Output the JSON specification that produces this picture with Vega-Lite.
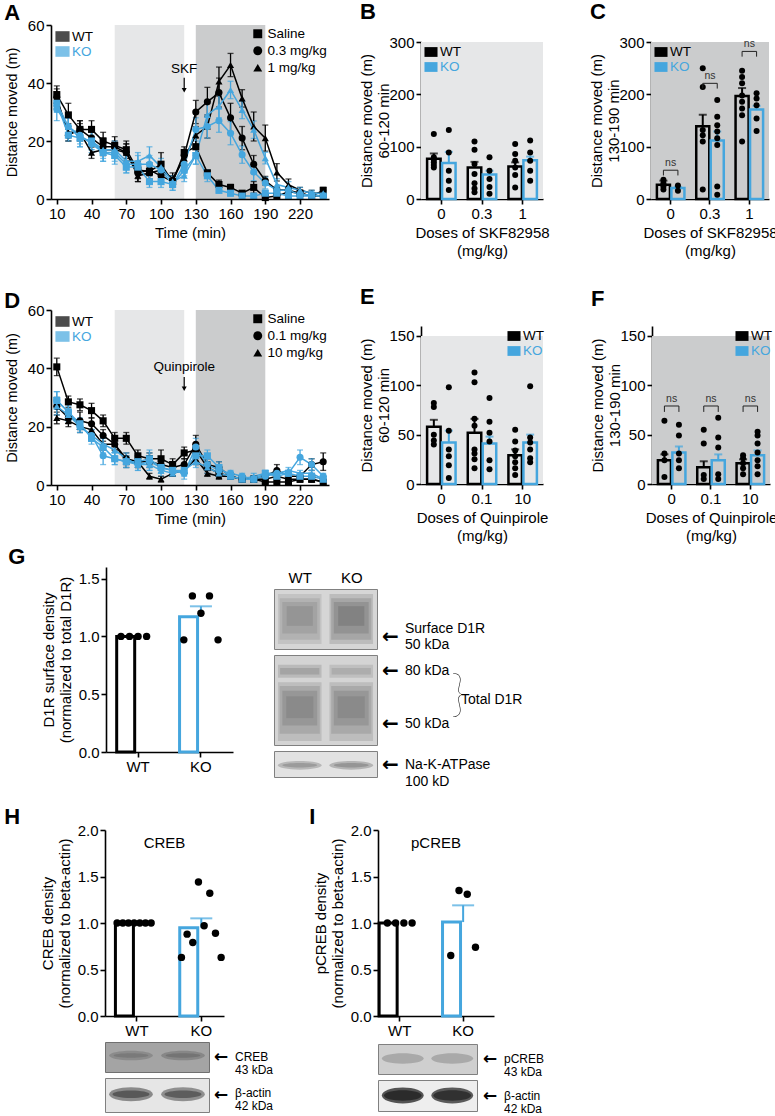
{
"$schema": "https://vega.github.io/schema/vega-lite/v6.json",
"background": "white",
"padding": {"left": 2, "top": 1, "right": 0, "bottom": 0},
"config": {
 "font": "Liberation Sans",
 "view": {"stroke": null},
 "axis": {"labelFont": "Liberation Sans", "titleFont": "Liberation Sans", "labelFontSize": 15, "titleFontSize": 15, "titleFontWeight": "normal", "labelColor": "#000000", "titleColor": "#000000", "domainColor": "#000000", "tickColor": "#000000", "domainWidth": 1.6, "tickWidth": 1.6, "tickSize": 5, "grid": false, "labelPadding": 2, "titlePadding": 5, "labelAngle": 0, "labelOverlap": false},
 "legend": {"labelFont": "Liberation Sans", "labelFontSize": 13.5, "labelColor": "#000000", "padding": 0},
 "title": {"font": "Liberation Sans", "fontSize": 22, "fontWeight": "bold", "anchor": "start", "color": "#000000", "offset": 4},
 "text": {"font": "Liberation Sans", "color": "#000000"}
},
"datasets": {
 "skf": [
{"g":"WT","d":"Saline","t":10,"m":36,"e":3},{"g":"WT","d":"Saline","t":20,"m":29,"e":4},{"g":"WT","d":"Saline","t":30,"m":24,"e":3},{"g":"WT","d":"Saline","t":40,"m":24,"e":3},{"g":"WT","d":"Saline","t":50,"m":20,"e":3},{"g":"WT","d":"Saline","t":60,"m":18.5,"e":3},{"g":"WT","d":"Saline","t":70,"m":17,"e":3},{"g":"WT","d":"Saline","t":80,"m":10,"e":3},{"g":"WT","d":"Saline","t":90,"m":9.5,"e":3},{"g":"WT","d":"Saline","t":100,"m":12,"e":4},{"g":"WT","d":"Saline","t":110,"m":6,"e":2},{"g":"WT","d":"Saline","t":120,"m":16,"e":2},{"g":"WT","d":"Saline","t":130,"m":18,"e":3},{"g":"WT","d":"Saline","t":140,"m":9,"e":1},{"g":"WT","d":"Saline","t":150,"m":5,"e":1.5},{"g":"WT","d":"Saline","t":160,"m":4,"e":1},{"g":"WT","d":"Saline","t":170,"m":2,"e":0.5},{"g":"WT","d":"Saline","t":180,"m":4,"e":2},{"g":"WT","d":"Saline","t":190,"m":0.5,"e":0.5},{"g":"WT","d":"Saline","t":200,"m":1,"e":0.5},{"g":"WT","d":"Saline","t":210,"m":2.5,"e":1},{"g":"WT","d":"Saline","t":220,"m":2,"e":1},{"g":"WT","d":"Saline","t":230,"m":1,"e":0.5},{"g":"WT","d":"Saline","t":240,"m":3,"e":1},
{"g":"WT","d":"0.3 mg/kg","t":10,"m":35,"e":3},{"g":"WT","d":"0.3 mg/kg","t":20,"m":22,"e":2},{"g":"WT","d":"0.3 mg/kg","t":30,"m":24,"e":3},{"g":"WT","d":"0.3 mg/kg","t":40,"m":21,"e":3},{"g":"WT","d":"0.3 mg/kg","t":50,"m":18,"e":3},{"g":"WT","d":"0.3 mg/kg","t":60,"m":18,"e":2},{"g":"WT","d":"0.3 mg/kg","t":70,"m":16,"e":3},{"g":"WT","d":"0.3 mg/kg","t":80,"m":9,"e":3},{"g":"WT","d":"0.3 mg/kg","t":90,"m":10,"e":2},{"g":"WT","d":"0.3 mg/kg","t":100,"m":8,"e":2},{"g":"WT","d":"0.3 mg/kg","t":110,"m":6,"e":2},{"g":"WT","d":"0.3 mg/kg","t":120,"m":15,"e":2},{"g":"WT","d":"0.3 mg/kg","t":130,"m":30,"e":4},{"g":"WT","d":"0.3 mg/kg","t":140,"m":33.5,"e":5},{"g":"WT","d":"0.3 mg/kg","t":150,"m":36.7,"e":5},{"g":"WT","d":"0.3 mg/kg","t":160,"m":28,"e":5},{"g":"WT","d":"0.3 mg/kg","t":170,"m":21,"e":4},{"g":"WT","d":"0.3 mg/kg","t":180,"m":12,"e":3},{"g":"WT","d":"0.3 mg/kg","t":190,"m":6.3,"e":1.5},{"g":"WT","d":"0.3 mg/kg","t":200,"m":3.2,"e":1},{"g":"WT","d":"0.3 mg/kg","t":210,"m":3,"e":1},{"g":"WT","d":"0.3 mg/kg","t":220,"m":2,"e":1},{"g":"WT","d":"0.3 mg/kg","t":230,"m":1,"e":0.5},{"g":"WT","d":"0.3 mg/kg","t":240,"m":1,"e":0.5},
{"g":"WT","d":"1 mg/kg","t":10,"m":34,"e":3},{"g":"WT","d":"1 mg/kg","t":20,"m":23,"e":3},{"g":"WT","d":"1 mg/kg","t":30,"m":23,"e":3},{"g":"WT","d":"1 mg/kg","t":40,"m":16,"e":2},{"g":"WT","d":"1 mg/kg","t":50,"m":17,"e":2},{"g":"WT","d":"1 mg/kg","t":60,"m":17,"e":2},{"g":"WT","d":"1 mg/kg","t":70,"m":16,"e":3},{"g":"WT","d":"1 mg/kg","t":80,"m":8,"e":2},{"g":"WT","d":"1 mg/kg","t":90,"m":9,"e":2},{"g":"WT","d":"1 mg/kg","t":100,"m":10,"e":2},{"g":"WT","d":"1 mg/kg","t":110,"m":7,"e":2},{"g":"WT","d":"1 mg/kg","t":120,"m":14,"e":3},{"g":"WT","d":"1 mg/kg","t":130,"m":22,"e":3},{"g":"WT","d":"1 mg/kg","t":140,"m":25,"e":4},{"g":"WT","d":"1 mg/kg","t":150,"m":40.5,"e":5},{"g":"WT","d":"1 mg/kg","t":160,"m":46.2,"e":4},{"g":"WT","d":"1 mg/kg","t":170,"m":34.7,"e":3},{"g":"WT","d":"1 mg/kg","t":180,"m":25,"e":5},{"g":"WT","d":"1 mg/kg","t":190,"m":21,"e":4.5},{"g":"WT","d":"1 mg/kg","t":200,"m":9.2,"e":3},{"g":"WT","d":"1 mg/kg","t":210,"m":4.9,"e":2},{"g":"WT","d":"1 mg/kg","t":220,"m":3,"e":1},{"g":"WT","d":"1 mg/kg","t":230,"m":2,"e":1},{"g":"WT","d":"1 mg/kg","t":240,"m":2,"e":1},
{"g":"KO","d":"Saline","t":10,"m":33,"e":3},{"g":"KO","d":"Saline","t":20,"m":22,"e":2},{"g":"KO","d":"Saline","t":30,"m":21,"e":3},{"g":"KO","d":"Saline","t":40,"m":20,"e":3},{"g":"KO","d":"Saline","t":50,"m":16,"e":3},{"g":"KO","d":"Saline","t":60,"m":15,"e":3},{"g":"KO","d":"Saline","t":70,"m":11,"e":2},{"g":"KO","d":"Saline","t":80,"m":11,"e":2},{"g":"KO","d":"Saline","t":90,"m":6,"e":2},{"g":"KO","d":"Saline","t":100,"m":6,"e":2},{"g":"KO","d":"Saline","t":110,"m":5,"e":2},{"g":"KO","d":"Saline","t":120,"m":10,"e":2},{"g":"KO","d":"Saline","t":130,"m":15,"e":3},{"g":"KO","d":"Saline","t":140,"m":8,"e":2},{"g":"KO","d":"Saline","t":150,"m":3,"e":1},{"g":"KO","d":"Saline","t":160,"m":2,"e":1},{"g":"KO","d":"Saline","t":170,"m":1,"e":0.5},{"g":"KO","d":"Saline","t":180,"m":1,"e":0.5},{"g":"KO","d":"Saline","t":190,"m":2,"e":1},{"g":"KO","d":"Saline","t":200,"m":2,"e":1},{"g":"KO","d":"Saline","t":210,"m":1,"e":0.5},{"g":"KO","d":"Saline","t":220,"m":1,"e":0.5},{"g":"KO","d":"Saline","t":230,"m":1,"e":0.5},{"g":"KO","d":"Saline","t":240,"m":1,"e":0.5},
{"g":"KO","d":"0.3 mg/kg","t":10,"m":31,"e":4},{"g":"KO","d":"0.3 mg/kg","t":20,"m":25,"e":3},{"g":"KO","d":"0.3 mg/kg","t":30,"m":22,"e":3},{"g":"KO","d":"0.3 mg/kg","t":40,"m":19,"e":3},{"g":"KO","d":"0.3 mg/kg","t":50,"m":16,"e":3},{"g":"KO","d":"0.3 mg/kg","t":60,"m":16,"e":3},{"g":"KO","d":"0.3 mg/kg","t":70,"m":12,"e":3},{"g":"KO","d":"0.3 mg/kg","t":80,"m":12,"e":3},{"g":"KO","d":"0.3 mg/kg","t":90,"m":12,"e":3},{"g":"KO","d":"0.3 mg/kg","t":100,"m":10,"e":2},{"g":"KO","d":"0.3 mg/kg","t":110,"m":5,"e":2},{"g":"KO","d":"0.3 mg/kg","t":120,"m":12,"e":3},{"g":"KO","d":"0.3 mg/kg","t":130,"m":24,"e":4},{"g":"KO","d":"0.3 mg/kg","t":140,"m":25,"e":4},{"g":"KO","d":"0.3 mg/kg","t":150,"m":27,"e":4},{"g":"KO","d":"0.3 mg/kg","t":160,"m":22.7,"e":4},{"g":"KO","d":"0.3 mg/kg","t":170,"m":15.3,"e":3},{"g":"KO","d":"0.3 mg/kg","t":180,"m":9.3,"e":3},{"g":"KO","d":"0.3 mg/kg","t":190,"m":5.5,"e":2},{"g":"KO","d":"0.3 mg/kg","t":200,"m":3,"e":1},{"g":"KO","d":"0.3 mg/kg","t":210,"m":3,"e":1},{"g":"KO","d":"0.3 mg/kg","t":220,"m":1.5,"e":1},{"g":"KO","d":"0.3 mg/kg","t":230,"m":1.5,"e":1},{"g":"KO","d":"0.3 mg/kg","t":240,"m":1,"e":0.5},
{"g":"KO","d":"1 mg/kg","t":10,"m":33,"e":3},{"g":"KO","d":"1 mg/kg","t":20,"m":25,"e":3},{"g":"KO","d":"1 mg/kg","t":30,"m":21,"e":3},{"g":"KO","d":"1 mg/kg","t":40,"m":20,"e":3},{"g":"KO","d":"1 mg/kg","t":50,"m":17,"e":3},{"g":"KO","d":"1 mg/kg","t":60,"m":17,"e":3},{"g":"KO","d":"1 mg/kg","t":70,"m":13,"e":3},{"g":"KO","d":"1 mg/kg","t":80,"m":13,"e":3},{"g":"KO","d":"1 mg/kg","t":90,"m":15,"e":3},{"g":"KO","d":"1 mg/kg","t":100,"m":11,"e":3},{"g":"KO","d":"1 mg/kg","t":110,"m":6,"e":2},{"g":"KO","d":"1 mg/kg","t":120,"m":8,"e":2},{"g":"KO","d":"1 mg/kg","t":130,"m":15,"e":3},{"g":"KO","d":"1 mg/kg","t":140,"m":29,"e":4},{"g":"KO","d":"1 mg/kg","t":150,"m":32,"e":4},{"g":"KO","d":"1 mg/kg","t":160,"m":37.6,"e":3},{"g":"KO","d":"1 mg/kg","t":170,"m":30.7,"e":3},{"g":"KO","d":"1 mg/kg","t":180,"m":23.9,"e":3},{"g":"KO","d":"1 mg/kg","t":190,"m":14.1,"e":2},{"g":"KO","d":"1 mg/kg","t":200,"m":5,"e":2},{"g":"KO","d":"1 mg/kg","t":210,"m":4,"e":2},{"g":"KO","d":"1 mg/kg","t":220,"m":3,"e":1},{"g":"KO","d":"1 mg/kg","t":230,"m":2,"e":1},{"g":"KO","d":"1 mg/kg","t":240,"m":2,"e":1}
 ],
 "qui": [
{"g":"WT","d":"Saline","t":10,"m":40.5,"e":3},{"g":"WT","d":"Saline","t":20,"m":28.5,"e":2},{"g":"WT","d":"Saline","t":30,"m":27.5,"e":2},{"g":"WT","d":"Saline","t":40,"m":25.5,"e":2.5},{"g":"WT","d":"Saline","t":50,"m":22,"e":2},{"g":"WT","d":"Saline","t":60,"m":16,"e":2},{"g":"WT","d":"Saline","t":70,"m":16,"e":2},{"g":"WT","d":"Saline","t":80,"m":10,"e":2},{"g":"WT","d":"Saline","t":90,"m":9,"e":2},{"g":"WT","d":"Saline","t":100,"m":9,"e":3},{"g":"WT","d":"Saline","t":110,"m":7,"e":2},{"g":"WT","d":"Saline","t":120,"m":11,"e":2},{"g":"WT","d":"Saline","t":130,"m":12,"e":2},{"g":"WT","d":"Saline","t":140,"m":6,"e":2},{"g":"WT","d":"Saline","t":150,"m":4,"e":1.5},{"g":"WT","d":"Saline","t":160,"m":3,"e":1},{"g":"WT","d":"Saline","t":170,"m":2,"e":1},{"g":"WT","d":"Saline","t":180,"m":2,"e":1},{"g":"WT","d":"Saline","t":190,"m":1,"e":0.5},{"g":"WT","d":"Saline","t":200,"m":1,"e":0.5},{"g":"WT","d":"Saline","t":210,"m":1,"e":0.5},{"g":"WT","d":"Saline","t":220,"m":2,"e":1},{"g":"WT","d":"Saline","t":230,"m":2,"e":1},{"g":"WT","d":"Saline","t":240,"m":1,"e":0.5},
{"g":"WT","d":"0.1 mg/kg","t":10,"m":27,"e":3},{"g":"WT","d":"0.1 mg/kg","t":20,"m":23,"e":2},{"g":"WT","d":"0.1 mg/kg","t":30,"m":22,"e":3},{"g":"WT","d":"0.1 mg/kg","t":40,"m":21,"e":2},{"g":"WT","d":"0.1 mg/kg","t":50,"m":17,"e":2},{"g":"WT","d":"0.1 mg/kg","t":60,"m":14,"e":2},{"g":"WT","d":"0.1 mg/kg","t":70,"m":9,"e":2},{"g":"WT","d":"0.1 mg/kg","t":80,"m":8,"e":2},{"g":"WT","d":"0.1 mg/kg","t":90,"m":8,"e":2},{"g":"WT","d":"0.1 mg/kg","t":100,"m":7,"e":2},{"g":"WT","d":"0.1 mg/kg","t":110,"m":6,"e":2},{"g":"WT","d":"0.1 mg/kg","t":120,"m":7,"e":2},{"g":"WT","d":"0.1 mg/kg","t":130,"m":14,"e":3},{"g":"WT","d":"0.1 mg/kg","t":140,"m":7,"e":2},{"g":"WT","d":"0.1 mg/kg","t":150,"m":6,"e":2},{"g":"WT","d":"0.1 mg/kg","t":160,"m":3,"e":1},{"g":"WT","d":"0.1 mg/kg","t":170,"m":2,"e":1},{"g":"WT","d":"0.1 mg/kg","t":180,"m":2,"e":1},{"g":"WT","d":"0.1 mg/kg","t":190,"m":3,"e":1},{"g":"WT","d":"0.1 mg/kg","t":200,"m":5,"e":2},{"g":"WT","d":"0.1 mg/kg","t":210,"m":3,"e":1},{"g":"WT","d":"0.1 mg/kg","t":220,"m":3,"e":1},{"g":"WT","d":"0.1 mg/kg","t":230,"m":7,"e":2},{"g":"WT","d":"0.1 mg/kg","t":240,"m":8,"e":3},
{"g":"WT","d":"10 mg/kg","t":10,"m":23,"e":2},{"g":"WT","d":"10 mg/kg","t":20,"m":22,"e":2},{"g":"WT","d":"10 mg/kg","t":30,"m":20,"e":2},{"g":"WT","d":"10 mg/kg","t":40,"m":19,"e":2},{"g":"WT","d":"10 mg/kg","t":50,"m":14,"e":2},{"g":"WT","d":"10 mg/kg","t":60,"m":14,"e":2},{"g":"WT","d":"10 mg/kg","t":70,"m":8,"e":2},{"g":"WT","d":"10 mg/kg","t":80,"m":8,"e":2},{"g":"WT","d":"10 mg/kg","t":90,"m":3,"e":1},{"g":"WT","d":"10 mg/kg","t":100,"m":2,"e":1},{"g":"WT","d":"10 mg/kg","t":110,"m":4,"e":1},{"g":"WT","d":"10 mg/kg","t":120,"m":5,"e":1},{"g":"WT","d":"10 mg/kg","t":130,"m":9,"e":2},{"g":"WT","d":"10 mg/kg","t":140,"m":4,"e":1},{"g":"WT","d":"10 mg/kg","t":150,"m":3,"e":1},{"g":"WT","d":"10 mg/kg","t":160,"m":3,"e":1},{"g":"WT","d":"10 mg/kg","t":170,"m":2,"e":1},{"g":"WT","d":"10 mg/kg","t":180,"m":2,"e":1},{"g":"WT","d":"10 mg/kg","t":190,"m":2,"e":1},{"g":"WT","d":"10 mg/kg","t":200,"m":3,"e":1},{"g":"WT","d":"10 mg/kg","t":210,"m":2,"e":1},{"g":"WT","d":"10 mg/kg","t":220,"m":2,"e":1},{"g":"WT","d":"10 mg/kg","t":230,"m":2,"e":1},{"g":"WT","d":"10 mg/kg","t":240,"m":1,"e":0.5},
{"g":"KO","d":"Saline","t":10,"m":29,"e":3},{"g":"KO","d":"Saline","t":20,"m":25,"e":3},{"g":"KO","d":"Saline","t":30,"m":21,"e":2},{"g":"KO","d":"Saline","t":40,"m":16,"e":2},{"g":"KO","d":"Saline","t":50,"m":13,"e":3},{"g":"KO","d":"Saline","t":60,"m":9,"e":2},{"g":"KO","d":"Saline","t":70,"m":8,"e":2},{"g":"KO","d":"Saline","t":80,"m":8,"e":2},{"g":"KO","d":"Saline","t":90,"m":9,"e":3},{"g":"KO","d":"Saline","t":100,"m":6,"e":2},{"g":"KO","d":"Saline","t":110,"m":5,"e":2},{"g":"KO","d":"Saline","t":120,"m":5,"e":2},{"g":"KO","d":"Saline","t":130,"m":10,"e":3},{"g":"KO","d":"Saline","t":140,"m":10,"e":2},{"g":"KO","d":"Saline","t":150,"m":6,"e":2},{"g":"KO","d":"Saline","t":160,"m":3,"e":1},{"g":"KO","d":"Saline","t":170,"m":2,"e":1},{"g":"KO","d":"Saline","t":180,"m":2,"e":1},{"g":"KO","d":"Saline","t":190,"m":4,"e":1},{"g":"KO","d":"Saline","t":200,"m":3,"e":1},{"g":"KO","d":"Saline","t":210,"m":4,"e":1},{"g":"KO","d":"Saline","t":220,"m":3,"e":1},{"g":"KO","d":"Saline","t":230,"m":3,"e":1},{"g":"KO","d":"Saline","t":240,"m":2,"e":1},
{"g":"KO","d":"0.1 mg/kg","t":10,"m":29,"e":3},{"g":"KO","d":"0.1 mg/kg","t":20,"m":25,"e":2},{"g":"KO","d":"0.1 mg/kg","t":30,"m":20,"e":2},{"g":"KO","d":"0.1 mg/kg","t":40,"m":17,"e":2},{"g":"KO","d":"0.1 mg/kg","t":50,"m":10,"e":3},{"g":"KO","d":"0.1 mg/kg","t":60,"m":9,"e":2},{"g":"KO","d":"0.1 mg/kg","t":70,"m":8,"e":2},{"g":"KO","d":"0.1 mg/kg","t":80,"m":7,"e":2},{"g":"KO","d":"0.1 mg/kg","t":90,"m":8,"e":3},{"g":"KO","d":"0.1 mg/kg","t":100,"m":6,"e":2},{"g":"KO","d":"0.1 mg/kg","t":110,"m":5,"e":2},{"g":"KO","d":"0.1 mg/kg","t":120,"m":4,"e":2},{"g":"KO","d":"0.1 mg/kg","t":130,"m":13,"e":3},{"g":"KO","d":"0.1 mg/kg","t":140,"m":7,"e":2},{"g":"KO","d":"0.1 mg/kg","t":150,"m":5,"e":2},{"g":"KO","d":"0.1 mg/kg","t":160,"m":4,"e":1},{"g":"KO","d":"0.1 mg/kg","t":170,"m":3,"e":1},{"g":"KO","d":"0.1 mg/kg","t":180,"m":2,"e":1},{"g":"KO","d":"0.1 mg/kg","t":190,"m":3,"e":1},{"g":"KO","d":"0.1 mg/kg","t":200,"m":4,"e":1},{"g":"KO","d":"0.1 mg/kg","t":210,"m":4,"e":1},{"g":"KO","d":"0.1 mg/kg","t":220,"m":9.5,"e":2.5},{"g":"KO","d":"0.1 mg/kg","t":230,"m":7,"e":2},{"g":"KO","d":"0.1 mg/kg","t":240,"m":3,"e":1},
{"g":"KO","d":"10 mg/kg","t":10,"m":27,"e":3},{"g":"KO","d":"10 mg/kg","t":20,"m":24,"e":2},{"g":"KO","d":"10 mg/kg","t":30,"m":20,"e":2},{"g":"KO","d":"10 mg/kg","t":40,"m":17,"e":2},{"g":"KO","d":"10 mg/kg","t":50,"m":14,"e":3},{"g":"KO","d":"10 mg/kg","t":60,"m":12,"e":2},{"g":"KO","d":"10 mg/kg","t":70,"m":9,"e":2},{"g":"KO","d":"10 mg/kg","t":80,"m":7,"e":2},{"g":"KO","d":"10 mg/kg","t":90,"m":7,"e":2},{"g":"KO","d":"10 mg/kg","t":100,"m":5,"e":2},{"g":"KO","d":"10 mg/kg","t":110,"m":4,"e":1},{"g":"KO","d":"10 mg/kg","t":120,"m":5,"e":1},{"g":"KO","d":"10 mg/kg","t":130,"m":8,"e":2},{"g":"KO","d":"10 mg/kg","t":140,"m":6,"e":2},{"g":"KO","d":"10 mg/kg","t":150,"m":4,"e":1},{"g":"KO","d":"10 mg/kg","t":160,"m":3,"e":1},{"g":"KO","d":"10 mg/kg","t":170,"m":2,"e":1},{"g":"KO","d":"10 mg/kg","t":180,"m":3,"e":1},{"g":"KO","d":"10 mg/kg","t":190,"m":4,"e":1},{"g":"KO","d":"10 mg/kg","t":200,"m":4,"e":1},{"g":"KO","d":"10 mg/kg","t":210,"m":5,"e":1},{"g":"KO","d":"10 mg/kg","t":220,"m":4,"e":1},{"g":"KO","d":"10 mg/kg","t":230,"m":4,"e":1},{"g":"KO","d":"10 mg/kg","t":240,"m":2,"e":1}
 ],
 "bars": [
{"p":"B","dose":"0","g":"WT","m":77,"hi":87},{"p":"B","dose":"0","g":"KO","m":69,"hi":90},{"p":"B","dose":"0.3","g":"WT","m":60,"hi":71},{"p":"B","dose":"0.3","g":"KO","m":47,"hi":54},{"p":"B","dose":"1","g":"WT","m":62,"hi":70},{"p":"B","dose":"1","g":"KO","m":74,"hi":81},
{"p":"C","dose":"0","g":"WT","m":27,"hi":35},{"p":"C","dose":"0","g":"KO","m":21,"hi":23},{"p":"C","dose":"0.3","g":"WT","m":139,"hi":161},{"p":"C","dose":"0.3","g":"KO","m":112,"hi":129},{"p":"C","dose":"1","g":"WT","m":197,"hi":212},{"p":"C","dose":"1","g":"KO","m":171,"hi":178},
{"p":"E","dose":"0","g":"WT","m":58,"hi":65},{"p":"E","dose":"0","g":"KO","m":42,"hi":54},{"p":"E","dose":"0.1","g":"WT","m":52,"hi":66},{"p":"E","dose":"0.1","g":"KO","m":41,"hi":48},{"p":"E","dose":"10","g":"WT","m":29,"hi":35},{"p":"E","dose":"10","g":"KO","m":42,"hi":50},
{"p":"F","dose":"0","g":"WT","m":24,"hi":30},{"p":"F","dose":"0","g":"KO","m":32,"hi":38},{"p":"F","dose":"0.1","g":"WT","m":17,"hi":23},{"p":"F","dose":"0.1","g":"KO","m":24,"hi":30},{"p":"F","dose":"10","g":"WT","m":21,"hi":25},{"p":"F","dose":"10","g":"KO","m":29,"hi":34},
{"p":"G","g":"WT","m":1.0,"hi":null},{"p":"G","g":"KO","m":1.17,"hi":1.26},
{"p":"H","g":"WT","m":1.0,"hi":null},{"p":"H","g":"KO","m":0.95,"hi":1.05},
{"p":"I","g":"WT","m":1.0,"hi":null},{"p":"I","g":"KO","m":1.01,"hi":1.19}
 ],
 "dots": [
{"p":"B","dose":"0","g":"WT","v":124},{"p":"B","dose":"0","g":"WT","v":80},{"p":"B","dose":"0","g":"WT","v":75},{"p":"B","dose":"0","g":"WT","v":70},{"p":"B","dose":"0","g":"WT","v":65},{"p":"B","dose":"0","g":"WT","v":60},
{"p":"B","dose":"0","g":"KO","v":132},{"p":"B","dose":"0","g":"KO","v":89},{"p":"B","dose":"0","g":"KO","v":54},{"p":"B","dose":"0","g":"KO","v":35},{"p":"B","dose":"0","g":"KO","v":17},
{"p":"B","dose":"0.3","g":"WT","v":110},{"p":"B","dose":"0.3","g":"WT","v":94},{"p":"B","dose":"0.3","g":"WT","v":67},{"p":"B","dose":"0.3","g":"WT","v":48},{"p":"B","dose":"0.3","g":"WT","v":30},{"p":"B","dose":"0.3","g":"WT","v":20},{"p":"B","dose":"0.3","g":"WT","v":13},
{"p":"B","dose":"0.3","g":"KO","v":80},{"p":"B","dose":"0.3","g":"KO","v":54},{"p":"B","dose":"0.3","g":"KO","v":38},{"p":"B","dose":"0.3","g":"KO","v":23},{"p":"B","dose":"0.3","g":"KO","v":10},
{"p":"B","dose":"1","g":"WT","v":105},{"p":"B","dose":"1","g":"WT","v":86},{"p":"B","dose":"1","g":"WT","v":73},{"p":"B","dose":"1","g":"WT","v":60},{"p":"B","dose":"1","g":"WT","v":46},{"p":"B","dose":"1","g":"WT","v":22},
{"p":"B","dose":"1","g":"KO","v":112},{"p":"B","dose":"1","g":"KO","v":89},{"p":"B","dose":"1","g":"KO","v":73},{"p":"B","dose":"1","g":"KO","v":54},{"p":"B","dose":"1","g":"KO","v":35},
{"p":"C","dose":"0","g":"WT","v":37},{"p":"C","dose":"0","g":"WT","v":30},{"p":"C","dose":"0","g":"WT","v":24},{"p":"C","dose":"0","g":"WT","v":18},
{"p":"C","dose":"0","g":"KO","v":26},{"p":"C","dose":"0","g":"KO","v":16},
{"p":"C","dose":"0.3","g":"WT","v":250},{"p":"C","dose":"0.3","g":"WT","v":214},{"p":"C","dose":"0.3","g":"WT","v":132},{"p":"C","dose":"0.3","g":"WT","v":122},{"p":"C","dose":"0.3","g":"WT","v":110},{"p":"C","dose":"0.3","g":"WT","v":18},
{"p":"C","dose":"0.3","g":"KO","v":189},{"p":"C","dose":"0.3","g":"KO","v":157},{"p":"C","dose":"0.3","g":"KO","v":141},{"p":"C","dose":"0.3","g":"KO","v":129},{"p":"C","dose":"0.3","g":"KO","v":116},{"p":"C","dose":"0.3","g":"KO","v":103},{"p":"C","dose":"0.3","g":"KO","v":24},{"p":"C","dose":"0.3","g":"KO","v":8},
{"p":"C","dose":"1","g":"WT","v":245},{"p":"C","dose":"1","g":"WT","v":233},{"p":"C","dose":"1","g":"WT","v":221},{"p":"C","dose":"1","g":"WT","v":198},{"p":"C","dose":"1","g":"WT","v":186},{"p":"C","dose":"1","g":"WT","v":173},{"p":"C","dose":"1","g":"WT","v":160},{"p":"C","dose":"1","g":"WT","v":110},
{"p":"C","dose":"1","g":"KO","v":202},{"p":"C","dose":"1","g":"KO","v":192},{"p":"C","dose":"1","g":"KO","v":179},{"p":"C","dose":"1","g":"KO","v":154},{"p":"C","dose":"1","g":"KO","v":130},
{"p":"E","dose":"0","g":"WT","v":82},{"p":"E","dose":"0","g":"WT","v":78},{"p":"E","dose":"0","g":"WT","v":50},{"p":"E","dose":"0","g":"WT","v":44},{"p":"E","dose":"0","g":"WT","v":40},
{"p":"E","dose":"0","g":"KO","v":98},{"p":"E","dose":"0","g":"KO","v":54},{"p":"E","dose":"0","g":"KO","v":35},{"p":"E","dose":"0","g":"KO","v":28},{"p":"E","dose":"0","g":"KO","v":19},{"p":"E","dose":"0","g":"KO","v":6},
{"p":"E","dose":"0.1","g":"WT","v":113},{"p":"E","dose":"0.1","g":"WT","v":103},{"p":"E","dose":"0.1","g":"WT","v":66},{"p":"E","dose":"0.1","g":"WT","v":59},{"p":"E","dose":"0.1","g":"WT","v":35},{"p":"E","dose":"0.1","g":"WT","v":31},{"p":"E","dose":"0.1","g":"WT","v":25},{"p":"E","dose":"0.1","g":"WT","v":16},
{"p":"E","dose":"0.1","g":"KO","v":87},{"p":"E","dose":"0.1","g":"KO","v":63},{"p":"E","dose":"0.1","g":"KO","v":52},{"p":"E","dose":"0.1","g":"KO","v":43},{"p":"E","dose":"0.1","g":"KO","v":24},{"p":"E","dose":"0.1","g":"KO","v":15},
{"p":"E","dose":"10","g":"WT","v":55},{"p":"E","dose":"10","g":"WT","v":43},{"p":"E","dose":"10","g":"WT","v":34},{"p":"E","dose":"10","g":"WT","v":28},{"p":"E","dose":"10","g":"WT","v":22},{"p":"E","dose":"10","g":"WT","v":16},{"p":"E","dose":"10","g":"WT","v":9},
{"p":"E","dose":"10","g":"KO","v":99},{"p":"E","dose":"10","g":"KO","v":47},{"p":"E","dose":"10","g":"KO","v":42},{"p":"E","dose":"10","g":"KO","v":35},{"p":"E","dose":"10","g":"KO","v":26},{"p":"E","dose":"10","g":"KO","v":22},
{"p":"F","dose":"0","g":"WT","v":64},{"p":"F","dose":"0","g":"WT","v":31},{"p":"F","dose":"0","g":"WT","v":24},{"p":"F","dose":"0","g":"WT","v":7},
{"p":"F","dose":"0","g":"KO","v":60},{"p":"F","dose":"0","g":"KO","v":49},{"p":"F","dose":"0","g":"KO","v":31},{"p":"F","dose":"0","g":"KO","v":24},{"p":"F","dose":"0","g":"KO","v":16},
{"p":"F","dose":"0.1","g":"WT","v":55},{"p":"F","dose":"0.1","g":"WT","v":41},{"p":"F","dose":"0.1","g":"WT","v":9},{"p":"F","dose":"0.1","g":"WT","v":5},
{"p":"F","dose":"0.1","g":"KO","v":67},{"p":"F","dose":"0.1","g":"KO","v":47},{"p":"F","dose":"0.1","g":"KO","v":37},{"p":"F","dose":"0.1","g":"KO","v":10},{"p":"F","dose":"0.1","g":"KO","v":5},
{"p":"F","dose":"10","g":"WT","v":29},{"p":"F","dose":"10","g":"WT","v":26},{"p":"F","dose":"10","g":"WT","v":21},{"p":"F","dose":"10","g":"WT","v":16},{"p":"F","dose":"10","g":"WT","v":10},
{"p":"F","dose":"10","g":"KO","v":53},{"p":"F","dose":"10","g":"KO","v":49},{"p":"F","dose":"10","g":"KO","v":41},{"p":"F","dose":"10","g":"KO","v":32},{"p":"F","dose":"10","g":"KO","v":24},{"p":"F","dose":"10","g":"KO","v":18},{"p":"F","dose":"10","g":"KO","v":10},
{"p":"G","g":"WT","rep":1,"v":1},{"p":"G","g":"WT","rep":2,"v":1},{"p":"G","g":"WT","rep":3,"v":1},{"p":"G","g":"WT","rep":4,"v":1},
{"p":"G","g":"KO","rep":1,"v":0.97},{"p":"G","g":"KO","rep":2,"v":1.35},{"p":"G","g":"KO","rep":3,"v":1.2},{"p":"G","g":"KO","rep":4,"v":1.35},{"p":"G","g":"KO","rep":5,"v":0.97},
{"p":"H","g":"WT","rep":1,"v":1},{"p":"H","g":"WT","rep":2,"v":1},{"p":"H","g":"WT","rep":3,"v":1},{"p":"H","g":"WT","rep":4,"v":1},{"p":"H","g":"WT","rep":5,"v":1},{"p":"H","g":"WT","rep":6,"v":1},{"p":"H","g":"WT","rep":7,"v":1},
{"p":"H","g":"KO","rep":1,"v":0.63},{"p":"H","g":"KO","rep":2,"v":0.88},{"p":"H","g":"KO","rep":3,"v":0.79},{"p":"H","g":"KO","rep":4,"v":1.44},{"p":"H","g":"KO","rep":5,"v":0.97},{"p":"H","g":"KO","rep":6,"v":1.32},{"p":"H","g":"KO","rep":7,"v":0.89},{"p":"H","g":"KO","rep":8,"v":0.63},
{"p":"I","g":"WT","rep":1,"v":1},{"p":"I","g":"WT","rep":2,"v":1},{"p":"I","g":"WT","rep":3,"v":1},{"p":"I","g":"WT","rep":4,"v":1},
{"p":"I","g":"KO","rep":1,"v":0.65},{"p":"I","g":"KO","rep":2,"v":1.35},{"p":"I","g":"KO","rep":3,"v":1.31},{"p":"I","g":"KO","rep":4,"v":0.74}
 ],
 "brk": [
{"p":"C","dose":"0","g":"WT","k":1,"v":45},{"p":"C","dose":"0","g":"WT","k":2,"v":55},{"p":"C","dose":"0","g":"KO","k":3,"v":55},{"p":"C","dose":"0","g":"KO","k":4,"v":45},
{"p":"C","dose":"0.3","g":"WT","k":1,"v":211},{"p":"C","dose":"0.3","g":"WT","k":2,"v":221},{"p":"C","dose":"0.3","g":"KO","k":3,"v":221},{"p":"C","dose":"0.3","g":"KO","k":4,"v":211},
{"p":"C","dose":"1","g":"WT","k":1,"v":272},{"p":"C","dose":"1","g":"WT","k":2,"v":282},{"p":"C","dose":"1","g":"KO","k":3,"v":282},{"p":"C","dose":"1","g":"KO","k":4,"v":272},
{"p":"F","dose":"0","g":"WT","k":1,"v":73},{"p":"F","dose":"0","g":"WT","k":2,"v":79},{"p":"F","dose":"0","g":"KO","k":3,"v":79},{"p":"F","dose":"0","g":"KO","k":4,"v":73},
{"p":"F","dose":"0.1","g":"WT","k":1,"v":73},{"p":"F","dose":"0.1","g":"WT","k":2,"v":79},{"p":"F","dose":"0.1","g":"KO","k":3,"v":79},{"p":"F","dose":"0.1","g":"KO","k":4,"v":73},
{"p":"F","dose":"10","g":"WT","k":1,"v":73},{"p":"F","dose":"10","g":"WT","k":2,"v":79},{"p":"F","dose":"10","g":"KO","k":3,"v":79},{"p":"F","dose":"10","g":"KO","k":4,"v":73}
 ],
 "ns": [
{"p":"C","dose":"0","v":59},{"p":"C","dose":"0.3","v":225},{"p":"C","dose":"1","v":286},
{"p":"F","dose":"0","v":81},{"p":"F","dose":"0.1","v":81},{"p":"F","dose":"10","v":81}
 ],
 "blot": [
{"b":"surf","lane":"WT","i":0.6},{"b":"surf","lane":"KO","i":0.85},
{"b":"tot80","lane":"WT","i":0.6},{"b":"tot80","lane":"KO","i":0.5},
{"b":"tot50","lane":"WT","i":0.75},{"b":"tot50","lane":"KO","i":0.75},
{"b":"nka","lane":"WT","i":0.6},{"b":"nka","lane":"KO","i":0.65},
{"b":"creb","lane":"WT","i":0.6},{"b":"creb","lane":"KO","i":0.7},
{"b":"actH","lane":"WT","i":0.9},{"b":"actH","lane":"KO","i":0.85},
{"b":"pcreb","lane":"WT","i":0.6},{"b":"pcreb","lane":"KO","i":0.6},
{"b":"actI","lane":"WT","i":1},{"b":"actI","lane":"KO","i":0.95}
 ]
},
"columns": 1, "align": "none", "spacing": 3,
"resolve": {"scale": {"color": "independent", "shape": "independent", "xOffset": "independent"}, "legend": {"color": "independent", "shape": "independent"}},
"concat": [
{"columns": 1, "align": "none", "spacing": 28,
 "resolve": {"scale": {"color": "independent", "shape": "independent", "xOffset": "independent"}, "legend": {"color": "independent", "shape": "independent"}},
 "concat": [
 {"columns": 2, "align": "none", "spacing": 1,
  "resolve": {"scale": {"color": "independent", "shape": "independent", "xOffset": "independent"}, "legend": {"color": "independent", "shape": "independent"}},
  "concat": [
  {"width": 1, "height": 1, "data": {"values": [{}]}, "mark": {"type": "text"}, "encoding": {"text": {"value": ""}}},
  {"columns": 2, "align": "none", "spacing": 39,
   "resolve": {"scale": {"color": "independent", "shape": "independent", "xOffset": "independent"}, "legend": {"color": "independent", "shape": "independent"}},
   "concat": [
   {"columns": 2, "align": "none", "spacing": 30,
    "resolve": {"scale": {"color": "independent", "shape": "independent", "xOffset": "independent"}, "legend": {"color": "independent", "shape": "independent"}},
    "concat": [
    {"title": {"text": "A", "offset": -7},
     "width": 278, "height": 174,
     "layer": [
      {"data": {"values": [{}]}, "mark": {"type": "rect", "color": "#e6e7e8"},
       "encoding": {"x": {"datum": 60, "type": "ordinal", "scale": {"type": "point", "padding": 0.5, "domain": [10,20,30,40,50,60,70,80,90,100,110,120,130,140,150,160,170,180,190,200,210,220,230,240]}, "axis": {"values": [10,40,70,100,130,160,190,220], "titlePadding": 4, "labelAngle": 0}, "title": "Time (min)"}, "x2": {"datum": 120}}},
      {"data": {"values": [{}]}, "mark": {"type": "rect", "color": "#cbcccd"},
       "encoding": {"x": {"datum": 130, "type": "ordinal", "title": "Time (min)"}, "x2": {"datum": 190}}},
      {"data": {"name": "skf"}, "mark": {"type": "errorbar", "ticks": {"size": 6}, "thickness": 1.3},
       "encoding": {"x": {"field": "t", "type": "ordinal", "title": "Time (min)"}, "y": {"field": "m", "type": "quantitative", "scale": {"domain": [0, 60]}, "axis": {"values": [0,20,40,60], "titleFontSize": 14.5, "titlePadding": 8}, "title": "Distance moved  (m)"}, "yError": {"field": "e"}, "color": {"field": "g", "type": "nominal", "scale": {"domain": ["WT","KO"], "range": ["#000000","#45a6de"]}}}},
      {"data": {"name": "skf"}, "mark": {"type": "line", "strokeWidth": 1.5},
       "encoding": {"x": {"field": "t", "type": "ordinal", "title": "Time (min)"}, "y": {"field": "m", "type": "quantitative", "title": "Distance moved  (m)"}, "color": {"field": "g", "type": "nominal"}, "detail": {"field": "d"}}},
      {"data": {"name": "skf"}, "mark": {"type": "point", "filled": true, "size": 50, "opacity": 1},
       "encoding": {"x": {"field": "t", "type": "ordinal", "title": "Time (min)"}, "y": {"field": "m", "type": "quantitative", "title": "Distance moved  (m)"},
        "color": {"field": "g", "type": "nominal", "legend": {"orient": "top-left", "title": null, "offset": 4, "symbolType": "M -1 -0.75 L 1 -0.75 L 1 0.75 L -1 0.75 Z", "symbolSize": 200, "symbolStrokeWidth": 0, "labelFontSize": 13.5, "rowPadding": 1, "labelOffset": 2, "labelColor": {"expr": "datum.value === 'KO' ? '#45a6de' : '#000000'"}, "encode": {"symbols": {"update": {"fill": {"signal": "datum.value === 'KO' ? '#45a6de' : '#000000'"}, "stroke": {"value": "transparent"}, "opacity": {"value": 1}}}, "labels": {"update": {"fill": {"signal": "datum.value === 'KO' ? '#45a6de' : '#000000'"}}}}}},
        "shape": {"field": "d", "type": "nominal", "scale": {"domain": ["Saline","0.3 mg/kg","1 mg/kg"], "range": ["square","circle","triangle-up"]}, "legend": {"orient": "top-right", "title": null, "offset": 2, "labelFontSize": 13.5, "symbolSize": 80, "rowPadding": 1, "labelOffset": 3, "encode": {"symbols": {"update": {"fill": {"value": "transparent"}, "stroke": {"value": "#000000"}, "strokeWidth": {"value": 2}, "opacity": {"value": 1}}}}}}}},
      {"data": {"values": [{}]}, "mark": {"type": "text", "fontSize": 13.5, "baseline": "middle"}, "encoding": {"x": {"datum": 120, "type": "ordinal"}, "y": {"datum": 45}, "text": {"value": "SKF"}}},
      {"data": {"values": [{}]}, "mark": {"type": "rule", "strokeWidth": 1.2, "color": "#000000"}, "encoding": {"x": {"datum": 120, "type": "ordinal"}, "y": {"datum": 41.8}, "y2": {"datum": 37.5}}},
      {"data": {"values": [{}]}, "mark": {"type": "point", "shape": "triangle-down", "filled": true, "size": 25, "color": "#000000", "opacity": 1}, "encoding": {"x": {"datum": 120, "type": "ordinal"}, "y": {"datum": 37.5}}}
     ]},
    {"title": {"text": "B", "offset": 1},
     "width": 122, "height": 174,
     "layer": [
      {"data": {"values": [{}]}, "mark": {"type": "rect", "color": "#e6e7e8"},
       "encoding": {"y": {"datum": 0, "type": "quantitative", "scale": {"domain": [0, 300], "range": [174, 17]}, "axis": {"values": [0,100,200,300], "titlePadding": -3}, "title": ["Distance moved (m)", "60-120 min"]}, "y2": {"datum": 300}}},
      {"data": {"name": "bars"}, "transform": [{"filter": "datum.p == 'B'"}], "mark": {"type": "bar", "filled": false, "strokeWidth": 2.5},
       "encoding": {"x": {"field": "dose", "type": "nominal", "sort": ["0","0.3","1"], "scale": {"paddingInner": 0.3, "paddingOuter": 0.15}, "axis": {"titleLineHeight": 18, "titlePadding": 4}, "title": ["Doses of SKF82958", "(mg/kg)"]},
        "xOffset": {"field": "g", "type": "nominal", "sort": ["WT","KO"], "scale": {"paddingInner": 0.1}},
        "y": {"field": "m", "type": "quantitative", "title": ["Distance moved (m)", "60-120 min"]},
        "color": {"field": "g", "type": "nominal", "scale": {"domain": ["WT","KO"], "range": ["#000000","#45a6de"]}, "legend": {"orient": "none", "legendX": 3, "legendY": 20, "title": null, "symbolType": "M -1 -0.75 L 1 -0.75 L 1 0.75 L -1 0.75 Z", "symbolSize": 170, "symbolStrokeWidth": 0, "labelFontSize": 13.5, "rowPadding": 1, "labelOffset": 2, "labelColor": {"expr": "datum.value === 'KO' ? '#45a6de' : '#000000'"}, "encode": {"symbols": {"update": {"fill": {"signal": "datum.value === 'KO' ? '#45a6de' : '#000000'"}, "stroke": {"value": "transparent"}, "opacity": {"value": 1}}}, "labels": {"update": {"fill": {"signal": "datum.value === 'KO' ? '#45a6de' : '#000000'"}}}}}}}},
      {"data": {"name": "bars"}, "transform": [{"filter": "datum.p == 'B'"}], "mark": {"type": "rule", "strokeWidth": 2},
       "encoding": {"x": {"field": "dose", "type": "nominal", "sort": ["0","0.3","1"], "title": ["Doses of SKF82958", "(mg/kg)"]}, "xOffset": {"field": "g", "type": "nominal", "sort": ["WT","KO"]}, "y": {"field": "m", "type": "quantitative", "title": ["Distance moved (m)", "60-120 min"]}, "y2": {"field": "hi"}, "color": {"field": "g", "type": "nominal"}}},
      {"data": {"name": "bars"}, "transform": [{"filter": "datum.p == 'B'"}], "mark": {"type": "tick", "thickness": 2, "size": 8},
       "encoding": {"x": {"field": "dose", "type": "nominal", "sort": ["0","0.3","1"], "title": ["Doses of SKF82958", "(mg/kg)"]}, "xOffset": {"field": "g", "type": "nominal", "sort": ["WT","KO"]}, "y": {"field": "hi", "type": "quantitative", "title": ["Distance moved (m)", "60-120 min"]}, "color": {"field": "g", "type": "nominal"}}},
      {"data": {"name": "dots"}, "transform": [{"filter": "datum.p == 'B'"}], "mark": {"type": "circle", "size": 36, "color": "#000000", "opacity": 1},
       "encoding": {"x": {"field": "dose", "type": "nominal", "sort": ["0","0.3","1"], "title": ["Doses of SKF82958", "(mg/kg)"]}, "xOffset": {"field": "g", "type": "nominal", "sort": ["WT","KO"]}, "y": {"field": "v", "type": "quantitative", "title": ["Distance moved (m)", "60-120 min"]}}}
     ]}
    ]},
   {"title": {"text": "C", "offset": 1},
    "width": 118, "height": 174,
    "layer": [
     {"data": {"values": [{}]}, "mark": {"type": "rect", "color": "#cbcccd"},
      "encoding": {"y": {"datum": 0, "type": "quantitative", "scale": {"domain": [0, 300], "range": [174, 17]}, "axis": {"values": [0,100,200,300], "titlePadding": -3}, "title": ["Distance moved (m)", "130-190 min"]}, "y2": {"datum": 300}}},
     {"data": {"name": "bars"}, "transform": [{"filter": "datum.p == 'C'"}], "mark": {"type": "bar", "filled": false, "strokeWidth": 2.5},
      "encoding": {"x": {"field": "dose", "type": "nominal", "sort": ["0","0.3","1"], "scale": {"paddingInner": 0.3, "paddingOuter": 0.15}, "axis": {"titleLineHeight": 18, "titlePadding": 4}, "title": ["Doses of SKF82958", "(mg/kg)"]},
       "xOffset": {"field": "g", "type": "nominal", "sort": ["WT","KO"], "scale": {"paddingInner": 0.1}},
       "y": {"field": "m", "type": "quantitative", "title": ["Distance moved (m)", "130-190 min"]},
       "color": {"field": "g", "type": "nominal", "scale": {"domain": ["WT","KO"], "range": ["#000000","#45a6de"]}, "legend": {"orient": "none", "legendX": 3, "legendY": 20, "title": null, "symbolType": "M -1 -0.75 L 1 -0.75 L 1 0.75 L -1 0.75 Z", "symbolSize": 170, "symbolStrokeWidth": 0, "labelFontSize": 13.5, "rowPadding": 1, "labelOffset": 2, "labelColor": {"expr": "datum.value === 'KO' ? '#45a6de' : '#000000'"}, "encode": {"symbols": {"update": {"fill": {"signal": "datum.value === 'KO' ? '#45a6de' : '#000000'"}, "stroke": {"value": "transparent"}, "opacity": {"value": 1}}}, "labels": {"update": {"fill": {"signal": "datum.value === 'KO' ? '#45a6de' : '#000000'"}}}}}}}},
     {"data": {"name": "bars"}, "transform": [{"filter": "datum.p == 'C'"}], "mark": {"type": "rule", "strokeWidth": 2},
      "encoding": {"x": {"field": "dose", "type": "nominal", "sort": ["0","0.3","1"], "title": ["Doses of SKF82958", "(mg/kg)"]}, "xOffset": {"field": "g", "type": "nominal", "sort": ["WT","KO"]}, "y": {"field": "m", "type": "quantitative", "title": ["Distance moved (m)", "130-190 min"]}, "y2": {"field": "hi"}, "color": {"field": "g", "type": "nominal"}}},
     {"data": {"name": "bars"}, "transform": [{"filter": "datum.p == 'C'"}], "mark": {"type": "tick", "thickness": 2, "size": 8},
      "encoding": {"x": {"field": "dose", "type": "nominal", "sort": ["0","0.3","1"], "title": ["Doses of SKF82958", "(mg/kg)"]}, "xOffset": {"field": "g", "type": "nominal", "sort": ["WT","KO"]}, "y": {"field": "hi", "type": "quantitative", "title": ["Distance moved (m)", "130-190 min"]}, "color": {"field": "g", "type": "nominal"}}},
     {"data": {"name": "dots"}, "transform": [{"filter": "datum.p == 'C'"}], "mark": {"type": "circle", "size": 36, "color": "#000000", "opacity": 1},
      "encoding": {"x": {"field": "dose", "type": "nominal", "sort": ["0","0.3","1"], "title": ["Doses of SKF82958", "(mg/kg)"]}, "xOffset": {"field": "g", "type": "nominal", "sort": ["WT","KO"]}, "y": {"field": "v", "type": "quantitative", "title": ["Distance moved (m)", "130-190 min"]}}},
     {"data": {"name": "brk"}, "transform": [{"filter": "datum.p == 'C'"}], "mark": {"type": "line", "color": "#222222", "strokeWidth": 1},
      "encoding": {"x": {"field": "dose", "type": "nominal", "sort": ["0","0.3","1"], "title": ["Doses of SKF82958", "(mg/kg)"]}, "xOffset": {"field": "g", "type": "nominal", "sort": ["WT","KO"]}, "y": {"field": "v", "type": "quantitative", "title": ["Distance moved (m)", "130-190 min"]}, "detail": {"field": "dose"}, "order": {"field": "k"}}},
     {"data": {"name": "ns"}, "transform": [{"filter": "datum.p == 'C'"}], "mark": {"type": "text", "fontSize": 10.5, "color": "#333333", "baseline": "bottom"},
      "encoding": {"x": {"field": "dose", "type": "nominal", "sort": ["0","0.3","1"], "title": ["Doses of SKF82958", "(mg/kg)"]}, "y": {"field": "v", "type": "quantitative", "title": ["Distance moved (m)", "130-190 min"]}, "text": {"value": "ns"}}}
    ]}
   ]}
  ]},
 {"columns": 2, "align": "none", "spacing": 1,
  "resolve": {"scale": {"color": "independent", "shape": "independent", "xOffset": "independent"}, "legend": {"color": "independent", "shape": "independent"}},
  "concat": [
  {"width": 1, "height": 1, "data": {"values": [{}]}, "mark": {"type": "text"}, "encoding": {"text": {"value": ""}}},
  {"columns": 2, "align": "none", "spacing": 42,
   "resolve": {"scale": {"color": "independent", "shape": "independent", "xOffset": "independent"}, "legend": {"color": "independent", "shape": "independent"}},
   "concat": [
   {"columns": 2, "align": "none", "spacing": 30,
    "resolve": {"scale": {"color": "independent", "shape": "independent", "xOffset": "independent"}, "legend": {"color": "independent", "shape": "independent"}},
    "concat": [
    {"title": {"text": "D", "offset": -10},
     "width": 278, "height": 175,
     "layer": [
      {"data": {"values": [{}]}, "mark": {"type": "rect", "color": "#e6e7e8"},
       "encoding": {"x": {"datum": 60, "type": "ordinal", "scale": {"type": "point", "padding": 0.5, "domain": [10,20,30,40,50,60,70,80,90,100,110,120,130,140,150,160,170,180,190,200,210,220,230,240]}, "axis": {"values": [10,40,70,100,130,160,190,220], "titlePadding": 4, "labelAngle": 0}, "title": "Time (min)"}, "x2": {"datum": 120}}},
      {"data": {"values": [{}]}, "mark": {"type": "rect", "color": "#cbcccd"},
       "encoding": {"x": {"datum": 130, "type": "ordinal", "title": "Time (min)"}, "x2": {"datum": 190}}},
      {"data": {"name": "qui"}, "mark": {"type": "errorbar", "ticks": {"size": 6}, "thickness": 1.3},
       "encoding": {"x": {"field": "t", "type": "ordinal", "title": "Time (min)"}, "y": {"field": "m", "type": "quantitative", "scale": {"domain": [0, 60]}, "axis": {"values": [0,20,40,60], "titleFontSize": 14.5, "titlePadding": 8}, "title": "Distance moved  (m)"}, "yError": {"field": "e"}, "color": {"field": "g", "type": "nominal", "scale": {"domain": ["WT","KO"], "range": ["#000000","#45a6de"]}}}},
      {"data": {"name": "qui"}, "mark": {"type": "line", "strokeWidth": 1.5},
       "encoding": {"x": {"field": "t", "type": "ordinal", "title": "Time (min)"}, "y": {"field": "m", "type": "quantitative", "title": "Distance moved  (m)"}, "color": {"field": "g", "type": "nominal"}, "detail": {"field": "d"}}},
      {"data": {"name": "qui"}, "mark": {"type": "point", "filled": true, "size": 50, "opacity": 1},
       "encoding": {"x": {"field": "t", "type": "ordinal", "title": "Time (min)"}, "y": {"field": "m", "type": "quantitative", "title": "Distance moved  (m)"},
        "color": {"field": "g", "type": "nominal", "legend": {"orient": "top-left", "title": null, "offset": 4, "symbolType": "M -1 -0.75 L 1 -0.75 L 1 0.75 L -1 0.75 Z", "symbolSize": 200, "symbolStrokeWidth": 0, "labelFontSize": 13.5, "rowPadding": 1, "labelOffset": 2, "labelColor": {"expr": "datum.value === 'KO' ? '#45a6de' : '#000000'"}, "encode": {"symbols": {"update": {"fill": {"signal": "datum.value === 'KO' ? '#45a6de' : '#000000'"}, "stroke": {"value": "transparent"}, "opacity": {"value": 1}}}, "labels": {"update": {"fill": {"signal": "datum.value === 'KO' ? '#45a6de' : '#000000'"}}}}}},
        "shape": {"field": "d", "type": "nominal", "scale": {"domain": ["Saline","0.1 mg/kg","10 mg/kg"], "range": ["square","circle","triangle-up"]}, "legend": {"orient": "top-right", "title": null, "offset": 2, "labelFontSize": 13.5, "symbolSize": 80, "rowPadding": 1, "labelOffset": 3, "encode": {"symbols": {"update": {"fill": {"value": "transparent"}, "stroke": {"value": "#000000"}, "strokeWidth": {"value": 2}, "opacity": {"value": 1}}}}}}}},
      {"data": {"values": [{}]}, "mark": {"type": "text", "fontSize": 13.5, "baseline": "middle"}, "encoding": {"x": {"datum": 120, "type": "ordinal"}, "y": {"datum": 40.5}, "text": {"value": "Quinpirole"}}},
      {"data": {"values": [{}]}, "mark": {"type": "rule", "strokeWidth": 1.2, "color": "#000000"}, "encoding": {"x": {"datum": 120, "type": "ordinal"}, "y": {"datum": 37}, "y2": {"datum": 33}}},
      {"data": {"values": [{}]}, "mark": {"type": "point", "shape": "triangle-down", "filled": true, "size": 25, "color": "#000000", "opacity": 1}, "encoding": {"x": {"datum": 120, "type": "ordinal"}, "y": {"datum": 33}}}
     ]},
    {"title": {"text": "E", "offset": 1},
     "width": 122, "height": 174,
     "layer": [
      {"data": {"values": [{}]}, "mark": {"type": "rect", "color": "#e6e7e8"},
       "encoding": {"y": {"datum": 0, "type": "quantitative", "scale": {"domain": [0, 150], "range": [174, 16]}, "axis": {"values": [0,50,100,150], "titlePadding": -3}, "title": ["Distance moved (m)", "60-120 min"]}, "y2": {"datum": 150}}},
      {"data": {"name": "bars"}, "transform": [{"filter": "datum.p == 'E'"}], "mark": {"type": "bar", "filled": false, "strokeWidth": 2.5},
       "encoding": {"x": {"field": "dose", "type": "nominal", "sort": ["0","0.1","10"], "scale": {"paddingInner": 0.3, "paddingOuter": 0.15}, "axis": {"titleLineHeight": 18, "titlePadding": 4}, "title": ["Doses of Quinpirole", "(mg/kg)"]},
        "xOffset": {"field": "g", "type": "nominal", "sort": ["WT","KO"], "scale": {"paddingInner": 0.1}},
        "y": {"field": "m", "type": "quantitative", "title": ["Distance moved (m)", "60-120 min"]},
        "color": {"field": "g", "type": "nominal", "scale": {"domain": ["WT","KO"], "range": ["#000000","#45a6de"]}, "legend": {"orient": "none", "legendX": 86, "legendY": 19, "title": null, "symbolType": "M -1 -0.75 L 1 -0.75 L 1 0.75 L -1 0.75 Z", "symbolSize": 170, "symbolStrokeWidth": 0, "labelFontSize": 13.5, "rowPadding": 1, "labelOffset": 2, "labelColor": {"expr": "datum.value === 'KO' ? '#45a6de' : '#000000'"}, "encode": {"symbols": {"update": {"fill": {"signal": "datum.value === 'KO' ? '#45a6de' : '#000000'"}, "stroke": {"value": "transparent"}, "opacity": {"value": 1}}}, "labels": {"update": {"fill": {"signal": "datum.value === 'KO' ? '#45a6de' : '#000000'"}}}}}}}},
      {"data": {"name": "bars"}, "transform": [{"filter": "datum.p == 'E'"}], "mark": {"type": "rule", "strokeWidth": 2},
       "encoding": {"x": {"field": "dose", "type": "nominal", "sort": ["0","0.1","10"], "title": ["Doses of Quinpirole", "(mg/kg)"]}, "xOffset": {"field": "g", "type": "nominal", "sort": ["WT","KO"]}, "y": {"field": "m", "type": "quantitative", "title": ["Distance moved (m)", "60-120 min"]}, "y2": {"field": "hi"}, "color": {"field": "g", "type": "nominal"}}},
      {"data": {"name": "bars"}, "transform": [{"filter": "datum.p == 'E'"}], "mark": {"type": "tick", "thickness": 2, "size": 8},
       "encoding": {"x": {"field": "dose", "type": "nominal", "sort": ["0","0.1","10"], "title": ["Doses of Quinpirole", "(mg/kg)"]}, "xOffset": {"field": "g", "type": "nominal", "sort": ["WT","KO"]}, "y": {"field": "hi", "type": "quantitative", "title": ["Distance moved (m)", "60-120 min"]}, "color": {"field": "g", "type": "nominal"}}},
      {"data": {"name": "dots"}, "transform": [{"filter": "datum.p == 'E'"}], "mark": {"type": "circle", "size": 36, "color": "#000000", "opacity": 1},
       "encoding": {"x": {"field": "dose", "type": "nominal", "sort": ["0","0.1","10"], "title": ["Doses of Quinpirole", "(mg/kg)"]}, "xOffset": {"field": "g", "type": "nominal", "sort": ["WT","KO"]}, "y": {"field": "v", "type": "quantitative", "title": ["Distance moved (m)", "60-120 min"]}}}
     ]}
    ]},
   {"title": {"text": "F", "offset": -1},
    "width": 118, "height": 174,
    "layer": [
     {"data": {"values": [{}]}, "mark": {"type": "rect", "color": "#cbcccd"},
      "encoding": {"y": {"datum": 0, "type": "quantitative", "scale": {"domain": [0, 150], "range": [174, 16]}, "axis": {"values": [0,50,100,150], "titlePadding": -3}, "title": ["Distance moved (m)", "130-190 min"]}, "y2": {"datum": 150}}},
     {"data": {"name": "bars"}, "transform": [{"filter": "datum.p == 'F'"}], "mark": {"type": "bar", "filled": false, "strokeWidth": 2.5},
      "encoding": {"x": {"field": "dose", "type": "nominal", "sort": ["0","0.1","10"], "scale": {"paddingInner": 0.3, "paddingOuter": 0.15}, "axis": {"titleLineHeight": 18, "titlePadding": 4}, "title": ["Doses of Quinpirole", "(mg/kg)"]},
       "xOffset": {"field": "g", "type": "nominal", "sort": ["WT","KO"], "scale": {"paddingInner": 0.1}},
       "y": {"field": "m", "type": "quantitative", "title": ["Distance moved (m)", "130-190 min"]},
       "color": {"field": "g", "type": "nominal", "scale": {"domain": ["WT","KO"], "range": ["#000000","#45a6de"]}, "legend": {"orient": "none", "legendX": 83, "legendY": 19, "title": null, "symbolType": "M -1 -0.75 L 1 -0.75 L 1 0.75 L -1 0.75 Z", "symbolSize": 170, "symbolStrokeWidth": 0, "labelFontSize": 13.5, "rowPadding": 1, "labelOffset": 2, "labelColor": {"expr": "datum.value === 'KO' ? '#45a6de' : '#000000'"}, "encode": {"symbols": {"update": {"fill": {"signal": "datum.value === 'KO' ? '#45a6de' : '#000000'"}, "stroke": {"value": "transparent"}, "opacity": {"value": 1}}}, "labels": {"update": {"fill": {"signal": "datum.value === 'KO' ? '#45a6de' : '#000000'"}}}}}}}},
     {"data": {"name": "bars"}, "transform": [{"filter": "datum.p == 'F'"}], "mark": {"type": "rule", "strokeWidth": 2},
      "encoding": {"x": {"field": "dose", "type": "nominal", "sort": ["0","0.1","10"], "title": ["Doses of Quinpirole", "(mg/kg)"]}, "xOffset": {"field": "g", "type": "nominal", "sort": ["WT","KO"]}, "y": {"field": "m", "type": "quantitative", "title": ["Distance moved (m)", "130-190 min"]}, "y2": {"field": "hi"}, "color": {"field": "g", "type": "nominal"}}},
     {"data": {"name": "bars"}, "transform": [{"filter": "datum.p == 'F'"}], "mark": {"type": "tick", "thickness": 2, "size": 8},
      "encoding": {"x": {"field": "dose", "type": "nominal", "sort": ["0","0.1","10"], "title": ["Doses of Quinpirole", "(mg/kg)"]}, "xOffset": {"field": "g", "type": "nominal", "sort": ["WT","KO"]}, "y": {"field": "hi", "type": "quantitative", "title": ["Distance moved (m)", "130-190 min"]}, "color": {"field": "g", "type": "nominal"}}},
     {"data": {"name": "dots"}, "transform": [{"filter": "datum.p == 'F'"}], "mark": {"type": "circle", "size": 36, "color": "#000000", "opacity": 1},
      "encoding": {"x": {"field": "dose", "type": "nominal", "sort": ["0","0.1","10"], "title": ["Doses of Quinpirole", "(mg/kg)"]}, "xOffset": {"field": "g", "type": "nominal", "sort": ["WT","KO"]}, "y": {"field": "v", "type": "quantitative", "title": ["Distance moved (m)", "130-190 min"]}}},
     {"data": {"name": "brk"}, "transform": [{"filter": "datum.p == 'F'"}], "mark": {"type": "line", "color": "#222222", "strokeWidth": 1},
      "encoding": {"x": {"field": "dose", "type": "nominal", "sort": ["0","0.1","10"], "title": ["Doses of Quinpirole", "(mg/kg)"]}, "xOffset": {"field": "g", "type": "nominal", "sort": ["WT","KO"]}, "y": {"field": "v", "type": "quantitative", "title": ["Distance moved (m)", "130-190 min"]}, "detail": {"field": "dose"}, "order": {"field": "k"}}},
     {"data": {"name": "ns"}, "transform": [{"filter": "datum.p == 'F'"}], "mark": {"type": "text", "fontSize": 10.5, "color": "#333333", "baseline": "bottom"},
      "encoding": {"x": {"field": "dose", "type": "nominal", "sort": ["0","0.1","10"], "title": ["Doses of Quinpirole", "(mg/kg)"]}, "y": {"field": "v", "type": "quantitative", "title": ["Distance moved (m)", "130-190 min"]}, "text": {"value": "ns"}}}
    ]}
   ]}
  ]}
 ]},
{"columns": 1, "align": "none", "spacing": 16,
 "resolve": {"scale": {"color": "independent", "shape": "independent", "xOffset": "independent"}, "legend": {"color": "independent", "shape": "independent"}},
 "concat": [
 {"columns": 2, "align": "none", "spacing": 5,
  "resolve": {"scale": {"color": "independent", "shape": "independent", "xOffset": "independent"}, "legend": {"color": "independent", "shape": "independent"}},
  "concat": [
  {"width": 1, "height": 1, "data": {"values": [{}]}, "mark": {"type": "text"}, "encoding": {"text": {"value": ""}}},
  {"columns": 2, "align": "none", "spacing": 40,
   "resolve": {"scale": {"color": "independent", "shape": "independent", "xOffset": "independent"}, "legend": {"color": "independent", "shape": "independent"}},
   "concat": [
   {"title": {"text": "G", "dx": -33, "offset": -2},
    "width": 127, "height": 185,
    "layer": [
     {"data": {"name": "bars"}, "transform": [{"filter": "datum.p == 'G'"}], "mark": {"type": "bar", "filled": false, "strokeWidth": 3},
      "encoding": {"x": {"field": "g", "type": "nominal", "sort": ["WT","KO"], "scale": {"paddingInner": 0.32, "paddingOuter": 0.17}, "axis": {"title": null}},
       "y": {"field": "m", "type": "quantitative", "scale": {"domain": [0, 1.5]}, "axis": {"values": [0,0.5,1,1.5], "format": ".1f"}, "title": ["D1R surface density", "(normalized to total D1R)"]},
       "color": {"field": "g", "type": "nominal", "scale": {"domain": ["WT","KO"], "range": ["#000000","#45a6de"]}, "legend": null}}},
     {"data": {"name": "bars"}, "transform": [{"filter": "datum.p == 'G' && datum.hi != null"}], "mark": {"type": "rule", "strokeWidth": 2},
      "encoding": {"x": {"field": "g", "type": "nominal", "sort": ["WT","KO"]}, "y": {"field": "m", "type": "quantitative", "title": ["D1R surface density", "(normalized to total D1R)"]}, "y2": {"field": "hi"}, "color": {"field": "g", "type": "nominal"}}},
     {"data": {"name": "bars"}, "transform": [{"filter": "datum.p == 'G' && datum.hi != null"}], "mark": {"type": "tick", "thickness": 2, "size": 22},
      "encoding": {"x": {"field": "g", "type": "nominal", "sort": ["WT","KO"]}, "y": {"field": "hi", "type": "quantitative", "title": ["D1R surface density", "(normalized to total D1R)"]}, "color": {"field": "g", "type": "nominal"}}},
     {"data": {"name": "dots"}, "transform": [{"filter": "datum.p == 'G'"}], "mark": {"type": "circle", "size": 55, "color": "#000000", "opacity": 1},
      "encoding": {"x": {"field": "g", "type": "nominal", "sort": ["WT","KO"]}, "xOffset": {"field": "rep", "type": "nominal"}, "y": {"field": "v", "type": "quantitative", "title": ["D1R surface density", "(normalized to total D1R)"]}}}
    ]},
   {"columns": 1, "align": "none", "spacing": 6, "bounds": "flush",
    "concat": [
    {"width": 103, "height": 16, "data": {"values": [{}]}, "mark": {"type": "text"}, "encoding": {"text": {"value": ""}}},
    {"width": 103, "height": 60,
     "view": {"fill": "#d6d6d6", "stroke": "#808080", "strokeWidth": 1},
     "layer": [
      {"data": {"name": "blot"}, "transform": [{"filter": "datum.b == 'surf'"}], "mark": {"type": "point", "filled": true, "color": "#1a1a1a", "size": 1900, "fillOpacity": 0.16, "shape": "M -1 -1.15 L 1 -1.15 L 1 1.15 L -1 1.15 Z"},
       "encoding": {"x": {"field": "lane", "type": "nominal", "sort": ["WT","KO"], "scale": {"paddingInner": 0.1, "paddingOuter": 0.05}, "axis": {"orient": "top", "domain": false, "ticks": false, "title": null, "labelPadding": 4}}, "y": {"datum": 0.5, "type": "quantitative", "scale": {"domain": [0, 1], "nice": false}, "axis": null}, "opacity": {"field": "i", "type": "quantitative", "scale": {"domain": [0, 1], "range": [0, 1]}, "legend": null}}},
      {"data": {"name": "blot"}, "transform": [{"filter": "datum.b == 'surf'"}], "mark": {"type": "point", "filled": true, "color": "#1a1a1a", "size": 1900, "fillOpacity": 0.16, "shape": "M -0.92 -0.95 L 0.92 -0.95 L 0.92 0.95 L -0.92 0.95 Z"},
       "encoding": {"x": {"field": "lane", "type": "nominal", "sort": ["WT","KO"], "axis": {"orient": "top", "domain": false, "ticks": false, "title": null, "labelPadding": 4}}, "y": {"datum": 0.5, "type": "quantitative"}, "opacity": {"field": "i", "type": "quantitative", "legend": null}}},
      {"data": {"name": "blot"}, "transform": [{"filter": "datum.b == 'surf'"}], "mark": {"type": "point", "filled": true, "color": "#1a1a1a", "size": 1900, "fillOpacity": 0.16, "shape": "M -0.8 -0.72 L 0.8 -0.72 L 0.8 0.72 L -0.8 0.72 Z"},
       "encoding": {"x": {"field": "lane", "type": "nominal", "sort": ["WT","KO"], "axis": {"orient": "top", "domain": false, "ticks": false, "title": null, "labelPadding": 4}}, "y": {"datum": 0.52, "type": "quantitative"}, "opacity": {"field": "i", "type": "quantitative", "legend": null}}},
      {"data": {"name": "blot"}, "transform": [{"filter": "datum.b == 'surf'"}], "mark": {"type": "point", "filled": true, "color": "#1a1a1a", "size": 1900, "fillOpacity": 0.16, "shape": "M -0.6 -0.45 L 0.6 -0.45 L 0.6 0.45 L -0.6 0.45 Z"},
       "encoding": {"x": {"field": "lane", "type": "nominal", "sort": ["WT","KO"], "axis": {"orient": "top", "domain": false, "ticks": false, "title": null, "labelPadding": 4}}, "y": {"datum": 0.55, "type": "quantitative"}, "opacity": {"field": "i", "type": "quantitative", "legend": null}}},
      {"data": {"values": [{}]}, "mark": {"type": "text", "align": "left", "baseline": "middle", "dx": 5, "fontSize": 20, "font": "DejaVu Sans", "fontWeight": "bold"}, "encoding": {"x": {"value": "width"}, "y": {"datum": 0.2, "type": "quantitative"}, "text": {"value": "←"}}},
      {"data": {"values": [{}]}, "mark": {"type": "text", "align": "left", "baseline": "middle", "dx": 28, "fontSize": 14, "lineBreak": "\n", "lineHeight": 16}, "encoding": {"x": {"value": "width"}, "y": {"datum": 0.33, "type": "quantitative"}, "text": {"value": "Surface D1R\n50 kDa"}}}
     ]},
    {"width": 103, "height": 90,
     "view": {"fill": "#d4d4d4", "stroke": "#808080", "strokeWidth": 1},
     "layer": [
      {"data": {"name": "blot"}, "transform": [{"filter": "datum.b == 'tot80'"}], "mark": {"type": "point", "filled": true, "color": "#1a1a1a", "size": 1900, "fillOpacity": 0.22, "shape": "M -1 -0.3 L 1 -0.3 L 1 0.3 L -1 0.3 Z"},
       "encoding": {"x": {"field": "lane", "type": "nominal", "sort": ["WT","KO"], "scale": {"paddingInner": 0.1, "paddingOuter": 0.05}, "axis": null}, "y": {"datum": 0.82, "type": "quantitative", "scale": {"domain": [0, 1], "nice": false}, "axis": null}, "opacity": {"field": "i", "type": "quantitative", "scale": {"domain": [0, 1], "range": [0, 1]}, "legend": null}}},
      {"data": {"name": "blot"}, "transform": [{"filter": "datum.b == 'tot80'"}], "mark": {"type": "point", "filled": true, "color": "#1a1a1a", "size": 1900, "fillOpacity": 0.22, "shape": "M -0.9 -0.15 L 0.9 -0.15 L 0.9 0.15 L -0.9 0.15 Z"},
       "encoding": {"x": {"field": "lane", "type": "nominal", "sort": ["WT","KO"], "axis": null}, "y": {"datum": 0.82, "type": "quantitative"}, "opacity": {"field": "i", "type": "quantitative", "legend": null}}},
      {"data": {"name": "blot"}, "transform": [{"filter": "datum.b == 'tot50'"}], "mark": {"type": "point", "filled": true, "color": "#1a1a1a", "size": 1900, "fillOpacity": 0.16, "shape": "M -1 -1.35 L 1 -1.35 L 1 1.35 L -1 1.35 Z"},
       "encoding": {"x": {"field": "lane", "type": "nominal", "sort": ["WT","KO"], "axis": null}, "y": {"datum": 0.37, "type": "quantitative"}, "opacity": {"field": "i", "type": "quantitative", "legend": null}}},
      {"data": {"name": "blot"}, "transform": [{"filter": "datum.b == 'tot50'"}], "mark": {"type": "point", "filled": true, "color": "#1a1a1a", "size": 1900, "fillOpacity": 0.16, "shape": "M -0.92 -1.1 L 0.92 -1.1 L 0.92 1.1 L -0.92 1.1 Z"},
       "encoding": {"x": {"field": "lane", "type": "nominal", "sort": ["WT","KO"], "axis": null}, "y": {"datum": 0.39, "type": "quantitative"}, "opacity": {"field": "i", "type": "quantitative", "legend": null}}},
      {"data": {"name": "blot"}, "transform": [{"filter": "datum.b == 'tot50'"}], "mark": {"type": "point", "filled": true, "color": "#1a1a1a", "size": 1900, "fillOpacity": 0.16, "shape": "M -0.8 -0.8 L 0.8 -0.8 L 0.8 0.8 L -0.8 0.8 Z"},
       "encoding": {"x": {"field": "lane", "type": "nominal", "sort": ["WT","KO"], "axis": null}, "y": {"datum": 0.41, "type": "quantitative"}, "opacity": {"field": "i", "type": "quantitative", "legend": null}}},
      {"data": {"name": "blot"}, "transform": [{"filter": "datum.b == 'tot50'"}], "mark": {"type": "point", "filled": true, "color": "#1a1a1a", "size": 1900, "fillOpacity": 0.14, "shape": "M -0.62 -0.5 L 0.62 -0.5 L 0.62 0.5 L -0.62 0.5 Z"},
       "encoding": {"x": {"field": "lane", "type": "nominal", "sort": ["WT","KO"], "axis": null}, "y": {"datum": 0.42, "type": "quantitative"}, "opacity": {"field": "i", "type": "quantitative", "legend": null}}},
      {"data": {"values": [{}]}, "mark": {"type": "text", "align": "left", "baseline": "middle", "dx": 5, "fontSize": 20, "font": "DejaVu Sans", "fontWeight": "bold"}, "encoding": {"x": {"value": "width"}, "y": {"datum": 0.82, "type": "quantitative"}, "text": {"value": "←"}}},
      {"data": {"values": [{}]}, "mark": {"type": "text", "align": "left", "baseline": "middle", "dx": 5, "fontSize": 20, "font": "DejaVu Sans", "fontWeight": "bold"}, "encoding": {"x": {"value": "width"}, "y": {"datum": 0.23, "type": "quantitative"}, "text": {"value": "←"}}},
      {"data": {"values": [{}]}, "mark": {"type": "text", "align": "left", "baseline": "middle", "dx": 28, "fontSize": 14}, "encoding": {"x": {"value": "width"}, "y": {"datum": 0.82, "type": "quantitative"}, "text": {"value": "80 kDa"}}},
      {"data": {"values": [{}]}, "mark": {"type": "text", "align": "left", "baseline": "middle", "dx": 28, "fontSize": 14}, "encoding": {"x": {"value": "width"}, "y": {"datum": 0.23, "type": "quantitative"}, "text": {"value": "50 kDa"}}},
      {"data": {"values": [{}]}, "mark": {"type": "text", "align": "left", "baseline": "middle", "dx": 74, "fontSize": 50, "font": "Lato", "fontWeight": 100}, "encoding": {"x": {"value": "width"}, "y": {"datum": 0.54, "type": "quantitative"}, "text": {"value": "}"}}},
      {"data": {"values": [{}]}, "mark": {"type": "text", "align": "left", "baseline": "middle", "dx": 84, "fontSize": 14}, "encoding": {"x": {"value": "width"}, "y": {"datum": 0.5, "type": "quantitative"}, "text": {"value": "Total D1R"}}}
     ]},
    {"width": 103, "height": 26,
     "view": {"fill": "#e2e2e2", "stroke": "#808080", "strokeWidth": 1},
     "layer": [
      {"data": {"name": "blot"}, "transform": [{"filter": "datum.b == 'nka'"}], "mark": {"type": "point", "filled": true, "color": "#1a1a1a", "size": 1900, "fillOpacity": 0.35, "shape": "M -1 0 A 1 0.2 0 1 1 1 0 A 1 0.2 0 1 1 -1 0 Z"},
       "encoding": {"x": {"field": "lane", "type": "nominal", "sort": ["WT","KO"], "scale": {"paddingInner": 0.1, "paddingOuter": 0.05}, "axis": null}, "y": {"datum": 0.45, "type": "quantitative", "scale": {"domain": [0, 1], "nice": false}, "axis": null}, "opacity": {"field": "i", "type": "quantitative", "scale": {"domain": [0, 1], "range": [0, 1]}, "legend": null}}},
      {"data": {"name": "blot"}, "transform": [{"filter": "datum.b == 'nka'"}], "mark": {"type": "point", "filled": true, "color": "#1a1a1a", "size": 1900, "fillOpacity": 0.3, "shape": "M -0.8 0 A 0.8 0.1 0 1 1 0.8 0 A 0.8 0.1 0 1 1 -0.8 0 Z"},
       "encoding": {"x": {"field": "lane", "type": "nominal", "sort": ["WT","KO"], "axis": null}, "y": {"datum": 0.45, "type": "quantitative"}, "opacity": {"field": "i", "type": "quantitative", "legend": null}}},
      {"data": {"values": [{}]}, "mark": {"type": "text", "align": "left", "baseline": "middle", "dx": 5, "fontSize": 20, "font": "DejaVu Sans", "fontWeight": "bold"}, "encoding": {"x": {"value": "width"}, "y": {"datum": 0.46, "type": "quantitative"}, "text": {"value": "←"}}},
      {"data": {"values": [{}]}, "mark": {"type": "text", "align": "left", "baseline": "middle", "dx": 28, "fontSize": 14, "lineBreak": "\n", "lineHeight": 17}, "encoding": {"x": {"value": "width"}, "y": {"datum": 0.45, "type": "quantitative"}, "text": {"value": "Na-K-ATPase\n100 kD"}}}
     ]}
    ]}
   ]}
  ]},
 {"columns": 2, "align": "none", "spacing": 1,
  "resolve": {"scale": {"color": "independent", "shape": "independent", "xOffset": "independent"}, "legend": {"color": "independent", "shape": "independent"}},
  "concat": [
  {"width": 1, "height": 1, "data": {"values": [{}]}, "mark": {"type": "text"}, "encoding": {"text": {"value": ""}}},
  {"columns": 2, "align": "none", "spacing": 35,
   "resolve": {"scale": {"color": "independent", "shape": "independent", "xOffset": "independent"}, "legend": {"color": "independent", "shape": "independent"}},
   "concat": [
   {"title": {"text": "H", "dx": -36, "offset": -6},
    "columns": 1, "align": "none", "spacing": 26, "bounds": "flush",
    "concat": [
    {"title": {"text": "CREB", "fontSize": 15, "fontWeight": "normal", "anchor": "middle", "frame": "group", "offset": -28},
     "width": 119, "height": 186,
     "layer": [
      {"data": {"name": "bars"}, "transform": [{"filter": "datum.p == 'H'"}], "mark": {"type": "bar", "filled": false, "strokeWidth": 3},
       "encoding": {"x": {"field": "g", "type": "nominal", "sort": ["WT","KO"], "scale": {"paddingInner": 0.33, "paddingOuter": 0.09, "align": 0.9}, "axis": {"title": null}},
        "y": {"field": "m", "type": "quantitative", "scale": {"domain": [0, 2]}, "axis": {"values": [0,0.5,1,1.5,2], "format": ".1f"}, "title": ["CREB density", "(normalized to beta-actin)"]},
        "color": {"field": "g", "type": "nominal", "scale": {"domain": ["WT","KO"], "range": ["#000000","#45a6de"]}, "legend": null}}},
      {"data": {"name": "bars"}, "transform": [{"filter": "datum.p == 'H' && datum.hi != null"}], "mark": {"type": "rule", "strokeWidth": 2},
       "encoding": {"x": {"field": "g", "type": "nominal", "sort": ["WT","KO"]}, "y": {"field": "m", "type": "quantitative", "title": ["CREB density", "(normalized to beta-actin)"]}, "y2": {"field": "hi"}, "color": {"field": "g", "type": "nominal"}}},
      {"data": {"name": "bars"}, "transform": [{"filter": "datum.p == 'H' && datum.hi != null"}], "mark": {"type": "tick", "thickness": 2, "size": 22},
       "encoding": {"x": {"field": "g", "type": "nominal", "sort": ["WT","KO"]}, "y": {"field": "hi", "type": "quantitative", "title": ["CREB density", "(normalized to beta-actin)"]}, "color": {"field": "g", "type": "nominal"}}},
      {"data": {"name": "dots"}, "transform": [{"filter": "datum.p == 'H'"}], "mark": {"type": "circle", "size": 55, "color": "#000000", "opacity": 1},
       "encoding": {"x": {"field": "g", "type": "nominal", "sort": ["WT","KO"]}, "xOffset": {"field": "rep", "type": "nominal", "scale": {"paddingOuter": 0.3}}, "y": {"field": "v", "type": "quantitative", "title": ["CREB density", "(normalized to beta-actin)"]}}}
     ]},
    {"columns": 1, "align": "none", "spacing": 6, "bounds": "flush",
     "concat": [
     {"width": 104, "height": 30,
      "view": {"fill": "#a4a4a4", "stroke": "#707070", "strokeWidth": 1},
      "layer": [
       {"data": {"name": "blot"}, "transform": [{"filter": "datum.b == 'creb'"}], "mark": {"type": "point", "filled": true, "color": "#1a1a1a", "size": 1900, "fillOpacity": 0.3, "shape": "M -1 0 A 1 0.22 0 1 1 1 0 A 1 0.22 0 1 1 -1 0 Z"},
        "encoding": {"x": {"field": "lane", "type": "nominal", "sort": ["WT","KO"], "scale": {"paddingInner": 0.12, "paddingOuter": 0.06}, "axis": null}, "y": {"datum": 0.55, "type": "quantitative", "scale": {"domain": [0, 1], "nice": false}, "axis": null}, "opacity": {"field": "i", "type": "quantitative", "scale": {"domain": [0, 1], "range": [0, 1]}, "legend": null}}},
       {"data": {"name": "blot"}, "transform": [{"filter": "datum.b == 'creb'"}], "mark": {"type": "point", "filled": true, "color": "#1a1a1a", "size": 1900, "fillOpacity": 0.25, "shape": "M -0.8 0 A 0.8 0.1 0 1 1 0.8 0 A 0.8 0.1 0 1 1 -0.8 0 Z"},
        "encoding": {"x": {"field": "lane", "type": "nominal", "sort": ["WT","KO"], "axis": null}, "y": {"datum": 0.55, "type": "quantitative"}, "opacity": {"field": "i", "type": "quantitative", "legend": null}}},
       {"data": {"values": [{}]}, "mark": {"type": "text", "align": "left", "baseline": "middle", "dx": 5, "fontSize": 17, "font": "DejaVu Sans", "fontWeight": "bold"}, "encoding": {"x": {"value": "width"}, "y": {"datum": 0.5, "type": "quantitative"}, "text": {"value": "←"}}},
       {"data": {"values": [{}]}, "mark": {"type": "text", "align": "left", "baseline": "middle", "dx": 26, "fontSize": 12, "lineBreak": "\n", "lineHeight": 13}, "encoding": {"x": {"value": "width"}, "y": {"datum": 0.5, "type": "quantitative"}, "text": {"value": "CREB\n43 kDa"}}}
      ]},
     {"width": 104, "height": 34,
      "view": {"fill": "#e6e6e6", "stroke": "#808080", "strokeWidth": 1},
      "layer": [
       {"data": {"name": "blot"}, "transform": [{"filter": "datum.b == 'actH'"}], "mark": {"type": "point", "filled": true, "color": "#1a1a1a", "size": 1900, "fillOpacity": 0.5, "shape": "M -1 0 A 1 0.32 0 1 1 1 0 A 1 0.32 0 1 1 -1 0 Z"},
        "encoding": {"x": {"field": "lane", "type": "nominal", "sort": ["WT","KO"], "scale": {"paddingInner": 0.12, "paddingOuter": 0.06}, "axis": null}, "y": {"datum": 0.52, "type": "quantitative", "scale": {"domain": [0, 1], "nice": false}, "axis": null}, "opacity": {"field": "i", "type": "quantitative", "scale": {"domain": [0, 1], "range": [0, 1]}, "legend": null}}},
       {"data": {"name": "blot"}, "transform": [{"filter": "datum.b == 'actH'"}], "mark": {"type": "point", "filled": true, "color": "#1a1a1a", "size": 1900, "fillOpacity": 0.5, "shape": "M -0.85 0 A 0.85 0.17 0 1 1 0.85 0 A 0.85 0.17 0 1 1 -0.85 0 Z"},
        "encoding": {"x": {"field": "lane", "type": "nominal", "sort": ["WT","KO"], "axis": null}, "y": {"datum": 0.52, "type": "quantitative"}, "opacity": {"field": "i", "type": "quantitative", "legend": null}}},
       {"data": {"values": [{}]}, "mark": {"type": "text", "align": "left", "baseline": "middle", "dx": 5, "fontSize": 17, "font": "DejaVu Sans", "fontWeight": "bold"}, "encoding": {"x": {"value": "width"}, "y": {"datum": 0.5, "type": "quantitative"}, "text": {"value": "←"}}},
       {"data": {"values": [{}]}, "mark": {"type": "text", "align": "left", "baseline": "middle", "dx": 26, "fontSize": 12, "lineBreak": "\n", "lineHeight": 13}, "encoding": {"x": {"value": "width"}, "y": {"datum": 0.55, "type": "quantitative"}, "text": {"value": "β-actin\n42 kDa"}}}
      ]}
     ]}
    ]},
   {"title": {"text": "I", "dx": -4, "offset": -6},
    "columns": 1, "align": "none", "spacing": 28, "bounds": "flush",
    "concat": [
    {"title": {"text": "pCREB", "fontSize": 15, "fontWeight": "normal", "anchor": "middle", "frame": "group", "offset": -28},
     "width": 116, "height": 186,
     "layer": [
      {"data": {"name": "bars"}, "transform": [{"filter": "datum.p == 'I'"}], "mark": {"type": "bar", "filled": false, "strokeWidth": 3},
       "encoding": {"x": {"field": "g", "type": "nominal", "sort": ["WT","KO"], "scale": {"paddingInner": 0.35, "paddingOuter": 0.09, "align": 0.1}, "axis": {"title": null}},
        "y": {"field": "m", "type": "quantitative", "scale": {"domain": [0, 2]}, "axis": {"values": [0,0.5,1,1.5,2], "format": ".1f"}, "title": ["pCREB density", "(normalized to beta-actin)"]},
        "color": {"field": "g", "type": "nominal", "scale": {"domain": ["WT","KO"], "range": ["#000000","#45a6de"]}, "legend": null}}},
      {"data": {"name": "bars"}, "transform": [{"filter": "datum.p == 'I' && datum.hi != null"}], "mark": {"type": "rule", "strokeWidth": 2},
       "encoding": {"x": {"field": "g", "type": "nominal", "sort": ["WT","KO"]}, "y": {"field": "m", "type": "quantitative", "title": ["pCREB density", "(normalized to beta-actin)"]}, "y2": {"field": "hi"}, "color": {"field": "g", "type": "nominal"}}},
      {"data": {"name": "bars"}, "transform": [{"filter": "datum.p == 'I' && datum.hi != null"}], "mark": {"type": "tick", "thickness": 2, "size": 22},
       "encoding": {"x": {"field": "g", "type": "nominal", "sort": ["WT","KO"]}, "y": {"field": "hi", "type": "quantitative", "title": ["pCREB density", "(normalized to beta-actin)"]}, "color": {"field": "g", "type": "nominal"}}},
      {"data": {"name": "dots"}, "transform": [{"filter": "datum.p == 'I'"}], "mark": {"type": "circle", "size": 55, "color": "#000000", "opacity": 1},
       "encoding": {"x": {"field": "g", "type": "nominal", "sort": ["WT","KO"]}, "xOffset": {"field": "rep", "type": "nominal", "scale": {"paddingOuter": 1}}, "y": {"field": "v", "type": "quantitative", "title": ["pCREB density", "(normalized to beta-actin)"]}}}
     ]},
    {"columns": 1, "align": "none", "spacing": 6, "bounds": "flush",
     "concat": [
     {"width": 99, "height": 30,
      "view": {"fill": "#cfcfcf", "stroke": "#808080", "strokeWidth": 1},
      "layer": [
       {"data": {"name": "blot"}, "transform": [{"filter": "datum.b == 'pcreb'"}], "mark": {"type": "point", "filled": true, "color": "#1a1a1a", "size": 1750, "fillOpacity": 0.35, "shape": "M -1 0 A 1 0.25 0 1 1 1 0 A 1 0.25 0 1 1 -1 0 Z"},
        "encoding": {"x": {"field": "lane", "type": "nominal", "sort": ["WT","KO"], "scale": {"paddingInner": 0.12, "paddingOuter": 0.06}, "axis": null}, "y": {"datum": 0.52, "type": "quantitative", "scale": {"domain": [0, 1], "nice": false}, "axis": null}, "opacity": {"field": "i", "type": "quantitative", "scale": {"domain": [0, 1], "range": [0, 1]}, "legend": null}}},
       {"data": {"values": [{}]}, "mark": {"type": "text", "align": "left", "baseline": "middle", "dx": 6, "fontSize": 17, "font": "DejaVu Sans", "fontWeight": "bold"}, "encoding": {"x": {"value": "width"}, "y": {"datum": 0.5, "type": "quantitative"}, "text": {"value": "←"}}},
       {"data": {"values": [{}]}, "mark": {"type": "text", "align": "left", "baseline": "middle", "dx": 27, "fontSize": 12, "lineBreak": "\n", "lineHeight": 13}, "encoding": {"x": {"value": "width"}, "y": {"datum": 0.5, "type": "quantitative"}, "text": {"value": "pCREB\n43 kDa"}}}
      ]},
     {"width": 99, "height": 31,
      "view": {"fill": "#eeeeee", "stroke": "#808080", "strokeWidth": 1},
      "layer": [
       {"data": {"name": "blot"}, "transform": [{"filter": "datum.b == 'actI'"}], "mark": {"type": "point", "filled": true, "color": "#111111", "size": 1750, "fillOpacity": 0.7, "shape": "M -1 0 A 1 0.38 0 1 1 1 0 A 1 0.38 0 1 1 -1 0 Z"},
        "encoding": {"x": {"field": "lane", "type": "nominal", "sort": ["WT","KO"], "scale": {"paddingInner": 0.12, "paddingOuter": 0.06}, "axis": null}, "y": {"datum": 0.5, "type": "quantitative", "scale": {"domain": [0, 1], "nice": false}, "axis": null}, "opacity": {"field": "i", "type": "quantitative", "scale": {"domain": [0, 1], "range": [0, 1]}, "legend": null}}},
       {"data": {"name": "blot"}, "transform": [{"filter": "datum.b == 'actI'"}], "mark": {"type": "point", "filled": true, "color": "#111111", "size": 1750, "fillOpacity": 0.6, "shape": "M -0.9 0 A 0.9 0.25 0 1 1 0.9 0 A 0.9 0.25 0 1 1 -0.9 0 Z"},
        "encoding": {"x": {"field": "lane", "type": "nominal", "sort": ["WT","KO"], "axis": null}, "y": {"datum": 0.5, "type": "quantitative"}, "opacity": {"field": "i", "type": "quantitative", "legend": null}}},
       {"data": {"values": [{}]}, "mark": {"type": "text", "align": "left", "baseline": "middle", "dx": 6, "fontSize": 17, "font": "DejaVu Sans", "fontWeight": "bold"}, "encoding": {"x": {"value": "width"}, "y": {"datum": 0.5, "type": "quantitative"}, "text": {"value": "←"}}},
       {"data": {"values": [{}]}, "mark": {"type": "text", "align": "left", "baseline": "middle", "dx": 27, "fontSize": 12, "lineBreak": "\n", "lineHeight": 13}, "encoding": {"x": {"value": "width"}, "y": {"datum": 0.5, "type": "quantitative"}, "text": {"value": "β-actin\n42 kDa"}}}
      ]}
     ]}
    ]}
   ]}
  ]}
 ]}
]
}
